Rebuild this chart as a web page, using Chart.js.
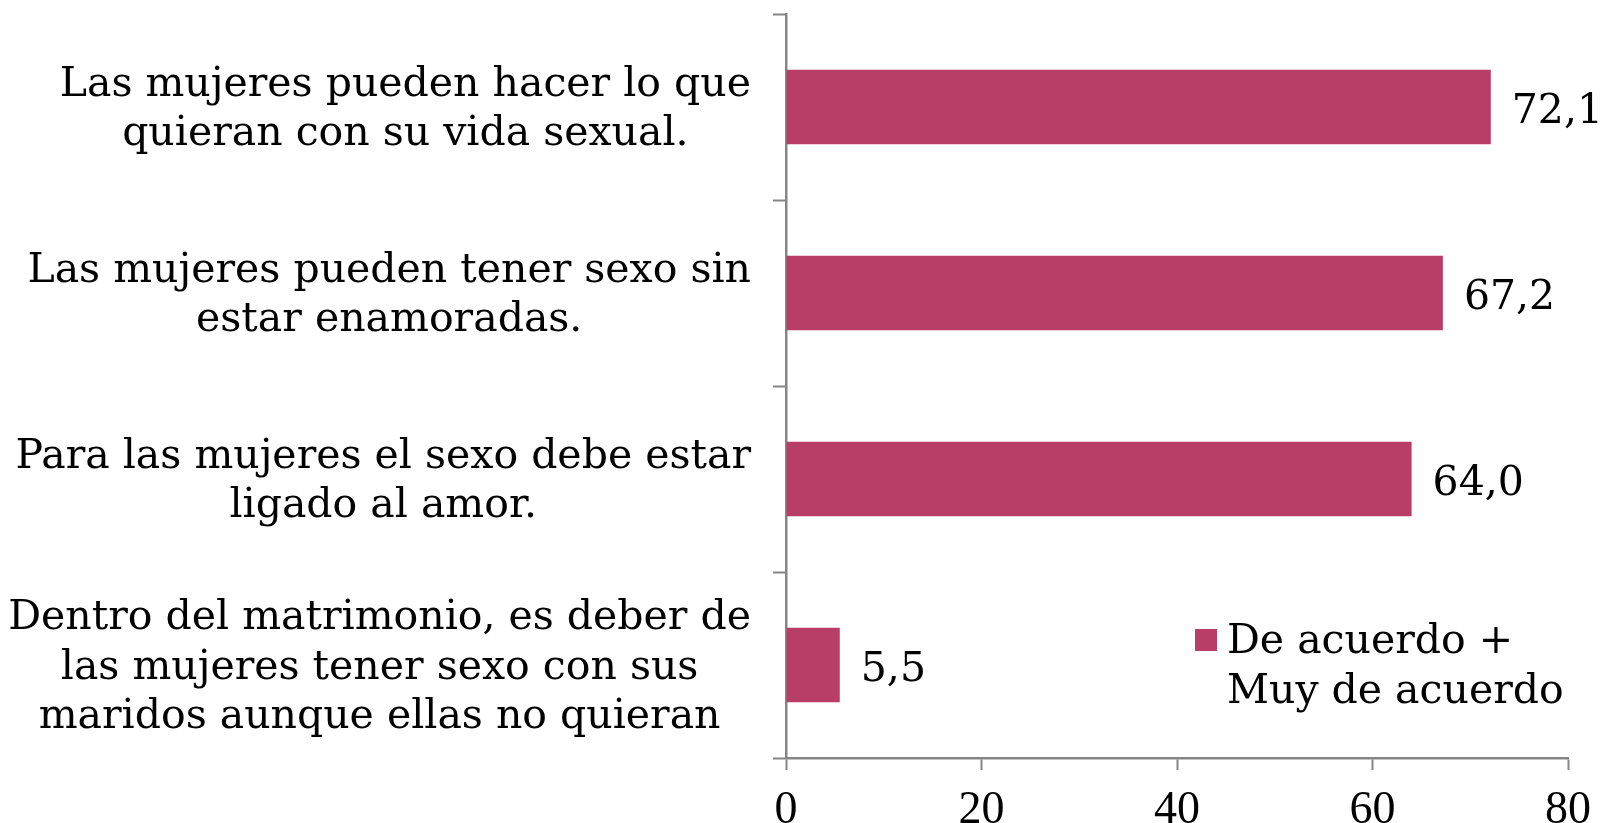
<!DOCTYPE html>
<html>
<head>
<meta charset="utf-8">
<script src="https://cdn.jsdelivr.net/npm/chart.js@4.4.1/dist/chart.umd.min.js"></script>
<style>
  body { margin: 0; background: #ffffff; }
  #wrap { width: 1602px; height: 823px; position: relative; }
</style>
</head>
<body>
<div id="wrap"><canvas id="chart"></canvas></div>
<script>
// Category labels, one array of lines per bar
const categories = [
    ["Las mujeres pueden hacer lo que", "quieran con su vida sexual."],
    ["Las mujeres pueden tener sexo sin", "estar enamoradas."],
    ["Para las mujeres el sexo debe estar", "ligado al amor."],
    ["Dentro del matrimonio, es deber de", "las mujeres tener sexo con sus", "maridos aunque ellas no quieran"]
]
const acuerdoValues = [72.1, 67.2, 64.0, 5.5] // De acuerdo + Muy de acuerdo (%)
const legendLines = ["De acuerdo +", "Muy de acuerdo"]
const xTicks = [0, 20, 40, 60, 80]

const barColor = "#b93e67"
const axisGrey = "#858585"
const serif = "'DejaVu Serif', serif"

/**
 * Formats a number with a decimal comma (e.g. 72,1)
 */
function formatValue(v) {
    return v.toFixed(1).replace(".", ",")
}

// Draws the multi-line category labels: each block right-aligned, lines centered within it
const categoryLabels = {
    id: "categoryLabels",
    afterDraw(chart) {
        const ctx = chart.ctx
        const yScale = chart.scales.y
        const blockRight = 751
        const lineHeight = 49.5
        ctx.save()
        ctx.font = "41px " + serif
        ctx.fillStyle = "#000000"
        ctx.textAlign = "center"
        ctx.textBaseline = "middle"
        categories.forEach((lines, i) => {
            const widest = Math.max(...lines.map(l => ctx.measureText(l).width))
            const cx = blockRight - widest / 2
            const cy = yScale.getPixelForTick(i) + 3
            const startY = cy - (lines.length - 1) * lineHeight / 2
            lines.forEach((line, j) => ctx.fillText(line, cx, startY + j * lineHeight))
        })
        ctx.restore()
    }
}

// Draws the value next to the end of each bar
const valueLabels = {
    id: "valueLabels",
    afterDatasetsDraw(chart) {
        const ctx = chart.ctx
        const meta = chart.getDatasetMeta(0)
        ctx.save()
        ctx.font = "41px " + serif
        ctx.fillStyle = "#000000"
        ctx.textAlign = "left"
        ctx.textBaseline = "middle"
        meta.data.forEach((bar, i) => {
            ctx.fillText(formatValue(acuerdoValues[i]), bar.x + 21, bar.y + 5)
        })
        ctx.restore()
    }
}

// Legend inside the plot, bottom right
const insideLegend = {
    id: "insideLegend",
    afterDraw(chart) {
        const ctx = chart.ctx
        const area = chart.chartArea
        const x = area.right - 373
        const y = area.bottom - 129
        ctx.save()
        ctx.fillStyle = barColor
        ctx.fillRect(x, y, 22, 22)
        ctx.font = "41px " + serif
        ctx.fillStyle = "#000000"
        ctx.textAlign = "left"
        ctx.textBaseline = "alphabetic"
        legendLines.forEach((line, j) => ctx.fillText(line, x + 32, y + 24 + j * 50))
        ctx.restore()
    }
}

const data = {
    labels: categories.map(c => c.join(" ")),
    datasets: [{
        label: legendLines.join(" "),
        data: acuerdoValues,
        backgroundColor: barColor,
        borderWidth: 0,
        categoryPercentage: 1.0,
        barPercentage: 0.4
    }]
}

const config = {
    type: "bar",
    data,
    options: {
        indexAxis: "y",
        responsive: true,
        maintainAspectRatio: false,
        animation: false,
        layout: {
            padding: { top: 14, right: 34, left: 0, bottom: 0 }
        },
        scales: {
            x: {
                min: xTicks[0],
                max: xTicks[xTicks.length - 1],
                afterBuildTicks: scale => {
                    scale.ticks = xTicks.map(v => ({ value: v }))
                },
                afterFit: scale => {
                    // fixed axis height, and keep the end labels from shrinking the plot
                    scale.height = 65
                    scale.paddingLeft = 0
                    scale.paddingRight = 0
                },
                grid: {
                    drawOnChartArea: false,
                    drawTicks: true,
                    tickLength: 12,
                    tickWidth: 2,
                    color: axisGrey
                },
                border: { color: axisGrey, width: 2.5 },
                ticks: {
                    color: "#000000",
                    padding: 13,
                    font: { family: "'Liberation Serif', serif", size: 46 }
                }
            },
            y: {
                afterFit: scale => { scale.width = 786 },
                grid: {
                    drawOnChartArea: false,
                    offset: true,
                    tickLength: 13,
                    tickWidth: 2,
                    color: axisGrey
                },
                border: { color: axisGrey, width: 2.5 },
                ticks: { display: false }
            }
        },
        plugins: {
            legend: { display: false },
            tooltip: { enabled: false }
        }
    },
    plugins: [categoryLabels, valueLabels, insideLegend]
}

const chart = new Chart(document.getElementById("chart"), config)
</script>
</body>
</html>
